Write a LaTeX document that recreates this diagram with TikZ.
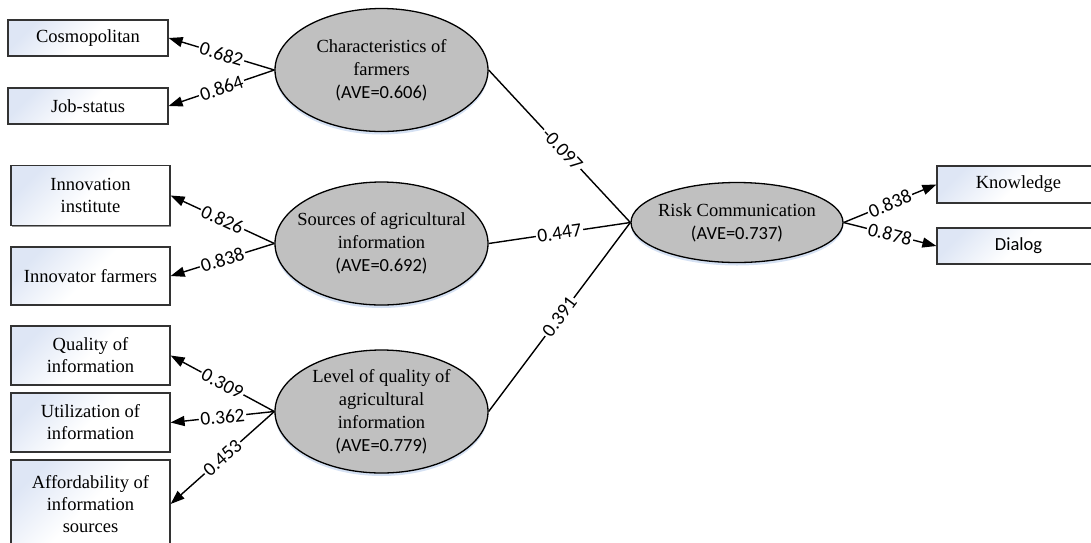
\documentclass[tikz,border=0pt]{standalone}
\usepackage{fontspec}
\setmainfont{Liberation Serif}
\newfontfamily\calfont{Carlito}
\usetikzlibrary{arrows.meta,shapes.geometric,shadows}
\definecolor{boxblue}{RGB}{222,230,245}
\definecolor{ellgray}{RGB}{192,192,192}
\definecolor{glow}{RGB}{185,205,235}
\begin{document}
\begin{tikzpicture}[x=1pt,y=-1pt,
  obs/.style={rectangle, draw=black!80, line width=1.2pt, inner sep=0pt,
    align=center, font=\fontsize{18.5}{22}\selectfont,
    top color=white, bottom color=boxblue, middle color=white, shading angle=-135,
    drop shadow={shadow xshift=1pt, shadow yshift=-1pt, fill=black!60, opacity=0.7}},
  latent/.style={ellipse, draw=black, line width=1.3pt, fill=ellgray,
    inner sep=0pt, minimum width=213pt, minimum height=123pt,
    drop shadow={shadow xshift=0pt, shadow yshift=-3pt, fill=glow, opacity=0.6}},
  lattext/.style={align=center, inner sep=0pt, font=\fontsize{18.5}{23}\selectfont},
  ld/.style={-{Triangle[length=14pt,width=10pt]}, line width=1.4pt},
  conn/.style={line width=1.4pt},
  lbl/.style={fill=white, inner sep=1.5pt, sloped, font=\calfont\fontsize{19.5}{20}\selectfont}
]
\useasboundingbox (0,0) rectangle (1091,542);
\clip (0,0) rectangle (1091,542);

% observed indicators
\node[obs, minimum width=160pt, minimum height=36pt] (cos) at (88,38) {Cosmopolitan};
\node[obs, minimum width=160pt, minimum height=36pt] (job) at (88,106) {Job-status};
\node[obs, minimum width=159pt, minimum height=60pt] (inst) at (90.5,195.5) {Innovation\\institute};
\node[obs, minimum width=159pt, minimum height=58pt] (innf) at (90.5,276) {Innovator farmers};
\node[obs, minimum width=159pt, minimum height=59pt] (qual) at (90.5,355.5) {Quality of\\information};
\node[obs, minimum width=159pt, minimum height=59pt] (util) at (90.5,422.5) {Utilization of\\information};
\node[obs, minimum width=159pt, minimum height=88pt] (aff) at (90.5,504) {Affordability of\\information\\sources};
\node[obs, minimum width=163pt, minimum height=37pt] (know) at (1018.5,184.5) {Knowledge};
\node[obs, minimum width=163pt, minimum height=36pt, font=\calfont\fontsize{18.5}{22}\selectfont] (dial) at (1018.5,246) {Dialog};

% latent constructs
\node[latent, label={[lattext]center:{Characteristics of\\farmers\\{\calfont (AVE=0.606)}}}] (e1) at (381.5,70) {};
\node[latent, label={[lattext]center:{Sources of agricultural\\information\\{\calfont (AVE=0.692)}}}] (e2) at (381.5,243.5) {};
\node[latent, label={[lattext]center:{Level of quality of\\agricultural\\information\\{\calfont (AVE=0.779)}}}] (e3) at (381.5,411.5) {};
\node[latent, minimum width=212pt, minimum height=80pt, label={[lattext]center:{Risk Communication\\{\calfont (AVE=0.737)}}}] (risk) at (737,222.5) {};

% loadings
\draw[ld] (e1.west) -- node[lbl, midway] {0.682} (cos.east);
\draw[ld] (e1.west) -- node[lbl, midway] {0.864} (job.east);
\draw[ld] (e2.west) -- node[lbl, midway] {0.826} (inst.east);
\draw[ld] (e2.west) -- node[lbl, midway] {0.838} (innf.east);
\draw[ld] (e3.west) -- node[lbl, midway] {0.309} (qual.east);
\draw[ld] (e3.west) -- node[lbl, midway] {0.362} (util.east);
\draw[ld] (e3.west) -- node[lbl, midway] {0.453} (aff.east);
\draw[ld] (risk.east) -- node[lbl, midway] {0.838} (know.west);
\draw[ld] (risk.east) -- node[lbl, midway] {0.878} (dial.west);

% paths
\draw[conn] (e1.east) -- node[lbl, pos=0.52] {-0.097} (risk.west);
\draw[conn] (e2.east) -- node[lbl, midway] {0.447} (risk.west);
\draw[conn] (e3.east) -- node[lbl, midway] {0.391} (risk.west);
\end{tikzpicture}
\end{document}
